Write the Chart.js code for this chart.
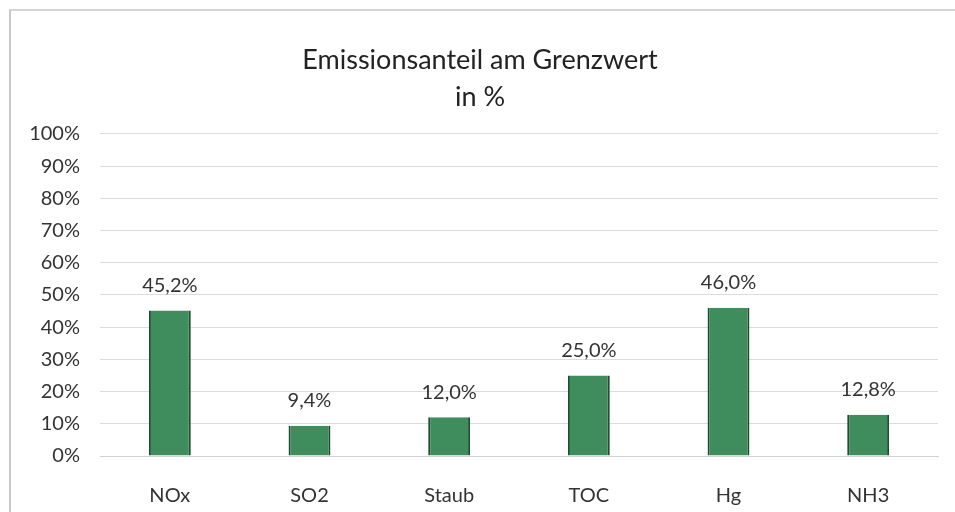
<!DOCTYPE html>
<html>
<head>
<meta charset="utf-8">
<script src="https://cdn.jsdelivr.net/npm/chart.js@4"></script>
<style>
  html, body { margin: 0; padding: 0; background: #fff; }
  #wrap { position: relative; width: 955px; height: 512px; }
  #frame { position: absolute; left: 9px; top: 9px; right: 0; bottom: 0;
           border-left: 2px solid #c8c8c8; border-top: 2px solid #d4d4d4; }
  canvas { position: absolute; left: 0; top: 0; }
</style>
</head>
<body>
<div id="wrap">
  <div id="frame"></div>
  <canvas id="chart" width="955" height="512"></canvas>
</div>
<script>
// emission share of the limit value, in percent
const categories = ['NOx', 'SO2', 'Staub', 'TOC', 'Hg', 'NH3'];
const shares = [45.2, 9.4, 12.0, 25.0, 46.0, 12.8];
const titleLines = ['Emissionsanteil am Grenzwert', 'in %'];

const fontFamily = 'Lato, "Open Sans", sans-serif';

// draws the value labels above each bar
const valueLabels = {
    id: 'valueLabels',
    afterDatasetsDraw(chart) {
        const ctx = chart.ctx;
        const meta = chart.getDatasetMeta(0);
        ctx.save();
        ctx.font = '20px ' + fontFamily;
        ctx.fillStyle = '#333';
        ctx.textAlign = 'center';
        ctx.textBaseline = 'bottom';
        meta.data.forEach((bar, i) => {
            const txt = shares[i].toFixed(1).replace('.', ',') + '%';
            ctx.fillText(txt, bar.x, bar.y - 15);
        });
        ctx.restore();
    }
};

const ctx = document.getElementById('chart').getContext('2d');
new Chart(ctx, {
    type: 'bar',
    data: {
        labels: categories,
        datasets: [{
            data: shares,
            backgroundColor: '#3f8c5c',
            borderColor: '#1b4f30',
            borderWidth: { left: 2, right: 2, top: 0, bottom: 0 },
            barPercentage: 0.6,
            categoryPercentage: 0.5
        }]
    },
    options: {
        responsive: false,
        animation: false,
        layout: { padding: { top: 42, left: 22, right: 17, bottom: 0 } },
        plugins: {
            legend: { display: false },
            tooltip: { enabled: false },
            title: {
                display: true,
                text: titleLines,
                color: '#222',
                font: { family: fontFamily, size: 27, weight: 'normal', lineHeight: 1.37 },
                padding: { top: 0, bottom: 18 }
            }
        },
        scales: {
            x: {
                afterFit(scale) { scale.height = 56; },
                grid: { display: false },
                border: { display: true, color: '#d0d0d0' },
                ticks: { color: '#333', font: { family: fontFamily, size: 20 }, padding: 20 }
            },
            y: {
                min: 0,
                max: 100,
                afterFit(scale) { scale.width = 78; },
                grid: { color: '#dcdcdc', drawTicks: false },
                border: { display: false },
                ticks: {
                    stepSize: 10,
                    color: '#333',
                    padding: 20,
                    font: { family: fontFamily, size: 20 },
                    callback: v => v + '%'
                }
            }
        }
    },
    plugins: [valueLabels]
});
</script>
</body>
</html>
